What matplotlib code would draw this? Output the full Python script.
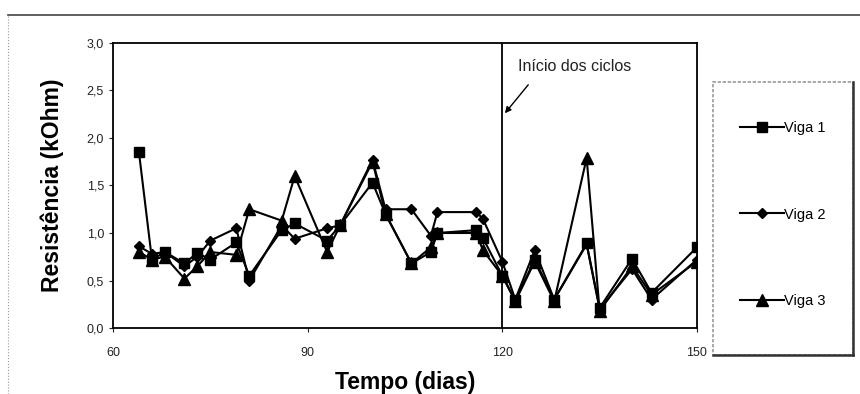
import matplotlib
matplotlib.use('Agg')
import matplotlib.pyplot as plt
from matplotlib.ticker import FuncFormatter
from matplotlib.lines import Line2D
from matplotlib.patches import Rectangle

plt.rcParams['font.family'] = ['Liberation Sans', 'DejaVu Sans']

dias = [64, 66, 68, 71, 73, 75, 79, 81, 86, 88, 93, 95, 100, 102, 106, 109, 110,
        116, 117, 120, 122, 125, 128, 133, 135, 140, 143, 150]
viga1 = [1.85, 0.72, 0.80, 0.68, 0.79, 0.72, 0.90, 0.55, 1.03, 1.10, 0.92, 1.08, 1.53,
         1.20, 0.68, 0.80, 1.00, 1.03, 0.95, 0.55, 0.29, 0.72, 0.30, 0.89, 0.21, 0.73, 0.37, 0.85]
viga2 = [0.86, 0.78, 0.80, 0.65, 0.75, 0.92, 1.05, 0.50, 1.08, 0.94, 1.05, 1.08, 1.77,
         1.25, 1.25, 0.97, 1.22, 1.22, 1.15, 0.70, 0.30, 0.82, 0.30, 0.88, 0.20, 0.62, 0.30, 0.72]
viga3 = [0.80, 0.72, 0.75, 0.52, 0.65, 0.80, 0.77, 1.25, 1.13, 1.60, 0.80, 1.08, 1.75,
         1.20, 0.68, 0.85, 1.00, 1.00, 0.82, 0.55, 0.28, 0.70, 0.28, 1.79, 0.18, 0.65, 0.35, 0.70]
inicio_ciclos = 120

fig = plt.figure(figsize=(8.6, 3.94), dpi=100)
ax = fig.add_axes([0.1314, 0.1675, 0.679, 0.7234])

ax.plot(dias, viga1, color='black', lw=1.5, marker='s', ms=7.5, label='Viga 1')
ax.plot(dias, viga2, color='black', lw=1.5, marker='D', ms=5.5, label='Viga 2')
ax.plot(dias, viga3, color='black', lw=1.5, marker='^', ms=8, label='Viga 3')

ax.axvline(inicio_ciclos, color='black', lw=1.3)
ax.text(131.2, 2.75, 'Início dos ciclos', ha='center', va='center', fontsize=11.5, color='#222222')
ax.annotate('', xy=(120.4, 2.26), xytext=(124.0, 2.56),
            arrowprops=dict(arrowstyle='-|>', color='black', lw=1.0, mutation_scale=9,
                            shrinkA=0, shrinkB=0))

ax.set_xlim(60, 150)
ax.set_ylim(0, 3)
ax.set_xticks([60, 90, 120, 150])
ax.set_yticks([0, 0.5, 1.0, 1.5, 2.0, 2.5, 3.0])
ax.yaxis.set_major_formatter(FuncFormatter(lambda v, p: f'{v:.1f}'.replace('.', ',')))
ax.tick_params(axis='both', labelsize=9, colors='#222222', length=3, width=0.8)
ax.tick_params(axis='x', pad=11)
for s in ax.spines.values():
    s.set_linewidth(1.3)

ax.set_xlabel('Tempo (dias)', fontsize=16.5, fontweight='bold', labelpad=8)
ax.set_ylabel('Resistência (kOhm)', fontsize=16.5, fontweight='bold', labelpad=16)

# legend box
box = (713 / 860, 39 / 394, 140 / 860, 273 / 394)
fig.add_artist(Rectangle(box[:2], box[2], box[3], transform=fig.transFigure,
                         fill=False, edgecolor='#999999', lw=1.2, ls=(0, (2, 1))))
fig.add_artist(Line2D([box[0] + box[2], box[0] + box[2]], [box[1], box[1] + box[3]],
                      color='#333333', lw=1.8))
fig.add_artist(Line2D([box[0], box[0] + box[2]], [box[1], box[1]], color='#333333', lw=1.8))
leg = fig.legend(loc='center', bbox_to_anchor=(box[0], box[1] + 0.01, box[2], box[3]),
                 fontsize=10.5, labelspacing=5.0, handlelength=3.0, handletextpad=0.05,
                 frameon=False)

# outer frame
fig.add_artist(Line2D([8 / 860, 1.0], [1 - 15 / 394, 1 - 15 / 394], color='#444444', lw=1.2))
fig.add_artist(Line2D([8 / 860, 8 / 860], [0.0, 1 - 15 / 394], color='#999999', lw=0.8, ls=':'))

fig.savefig('out.png', dpi=100)
